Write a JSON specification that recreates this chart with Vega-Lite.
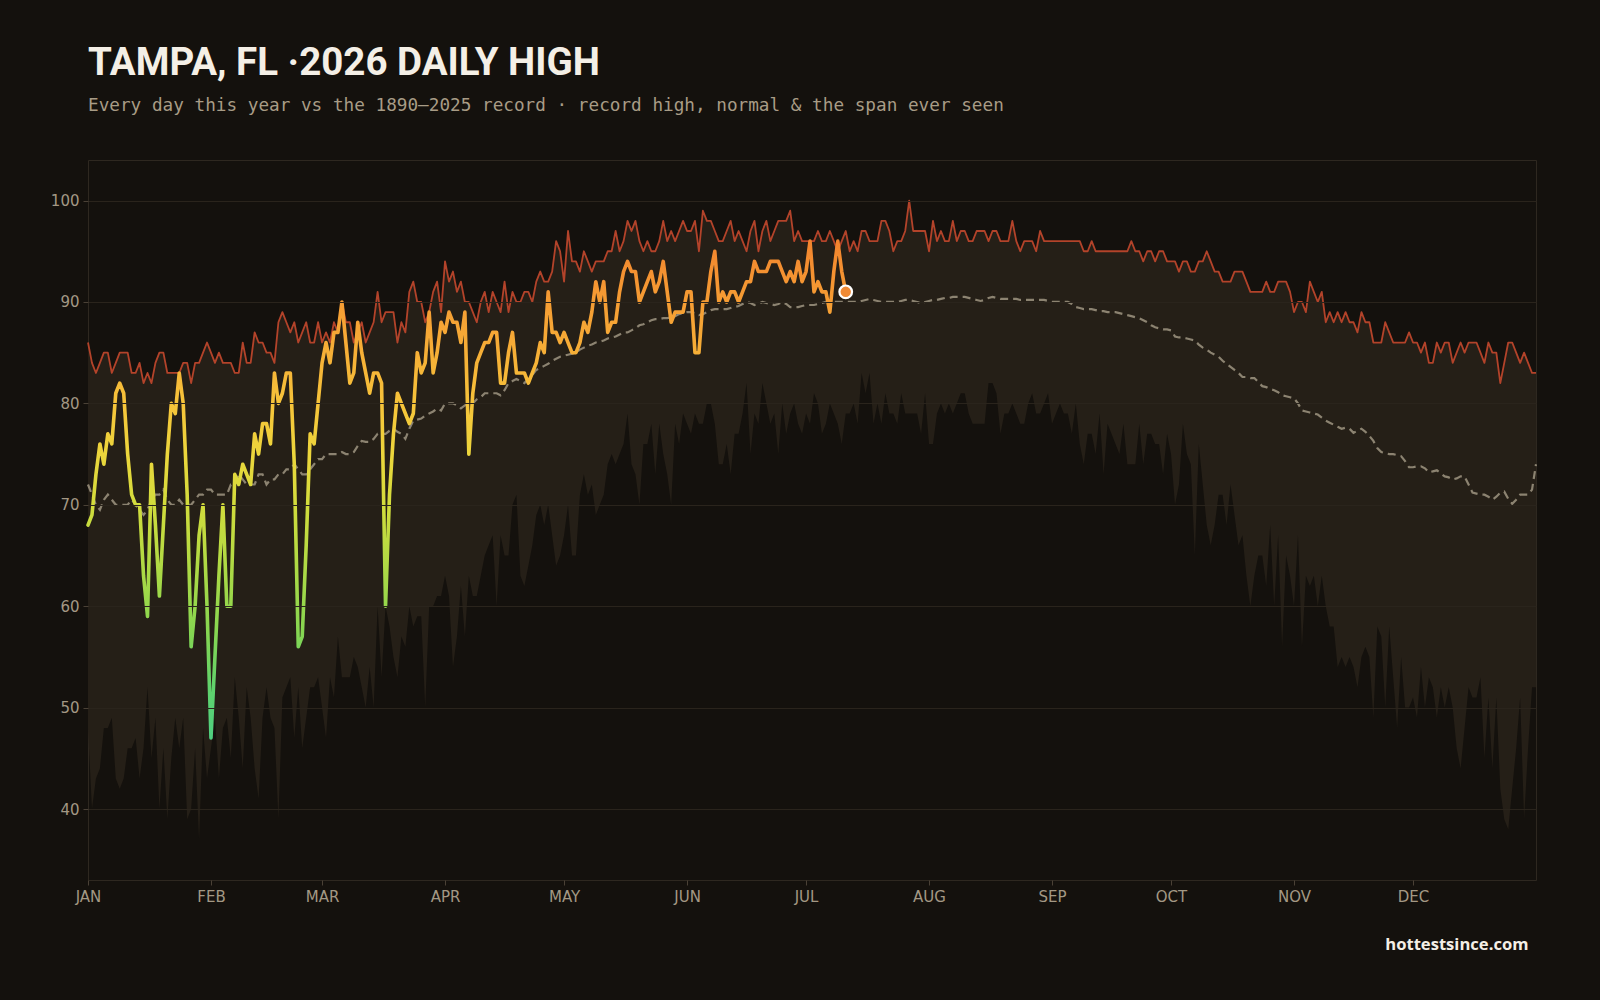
{
  "$schema": "https://vega.github.io/schema/vega-lite/v6.json",
  "width": 1448,
  "height": 720,
  "autosize": {"type": "none"},
  "padding": {"left": 88, "top": 160, "right": 64, "bottom": 120},
  "background": "#14110d",
  "title": {
    "text": "TAMPA, FL ·2026 DAILY HIGH",
    "subtitle": "Every day this year vs the 1890–2025 record · record high, normal & the span ever seen",
    "anchor": "start",
    "frame": "group",
    "font": "Roboto",
    "fontSize": 38.5,
    "fontWeight": "bold",
    "color": "#f4efe6",
    "subtitleFont": "DejaVu Sans Mono",
    "subtitleFontSize": 17.7,
    "subtitleColor": "#a89c86",
    "subtitlePadding": 14,
    "offset": 44
  },
  "config": {
    "view": {"fill": "#14110d", "stroke": "#2e2820", "strokeWidth": 1},
    "axis": {
      "domain": false,
      "labelColor": "#a39884",
      "labelFont": "DejaVu Sans",
      "labelFontSize": 15,
      "tickColor": "#4a4136",
      "tickSize": 5,
      "gridColor": "#2a241c",
      "gridWidth": 1,
      "labelPadding": 4
    }
  },
  "data": {"values": [
{"d":0,"hi":86,"lo":48,"nm":72,"t":68},
{"d":1,"hi":84,"lo":40,"nm":71,"t":69},
{"d":2,"hi":83,"lo":43,"nm":70,"t":73},
{"d":3,"hi":84,"lo":44,"nm":69.5,"t":76},
{"d":4,"hi":85,"lo":48,"nm":70.5,"t":74},
{"d":5,"hi":85,"lo":48,"nm":71,"t":77},
{"d":6,"hi":83,"lo":49,"nm":70.5,"t":76},
{"d":7,"hi":84,"lo":43,"nm":70,"t":81},
{"d":8,"hi":85,"lo":42,"nm":70,"t":82},
{"d":9,"hi":85,"lo":43,"nm":70,"t":81},
{"d":10,"hi":85,"lo":46,"nm":70,"t":75},
{"d":11,"hi":83,"lo":46,"nm":70.5,"t":71},
{"d":12,"hi":83,"lo":47,"nm":70,"t":70},
{"d":13,"hi":84,"lo":43,"nm":69.5,"t":70},
{"d":14,"hi":82,"lo":46,"nm":69,"t":63},
{"d":15,"hi":83,"lo":52,"nm":69.5,"t":59},
{"d":16,"hi":82,"lo":45,"nm":70.5,"t":74},
{"d":17,"hi":84,"lo":49,"nm":71,"t":68},
{"d":18,"hi":85,"lo":40,"nm":71,"t":61},
{"d":19,"hi":85,"lo":46,"nm":71.5,"t":68},
{"d":20,"hi":83,"lo":39,"nm":70.5,"t":75},
{"d":21,"hi":83,"lo":45,"nm":70,"t":80},
{"d":22,"hi":83,"lo":49,"nm":70,"t":79},
{"d":23,"hi":83,"lo":46,"nm":70.5,"t":83},
{"d":24,"hi":84,"lo":49,"nm":70,"t":80},
{"d":25,"hi":84,"lo":39,"nm":70,"t":71},
{"d":26,"hi":82,"lo":40,"nm":70,"t":56},
{"d":27,"hi":84,"lo":46,"nm":70.5,"t":60},
{"d":28,"hi":84,"lo":37,"nm":71,"t":67},
{"d":29,"hi":85,"lo":48,"nm":71,"t":70},
{"d":30,"hi":86,"lo":43,"nm":71.5,"t":60},
{"d":31,"hi":85,"lo":46,"nm":71.5,"t":47},
{"d":32,"hi":84,"lo":49,"nm":71,"t":55},
{"d":33,"hi":85,"lo":43,"nm":71,"t":63},
{"d":34,"hi":84,"lo":48,"nm":71,"t":70},
{"d":35,"hi":84,"lo":49,"nm":71,"t":60},
{"d":36,"hi":84,"lo":45,"nm":72,"t":60},
{"d":37,"hi":83,"lo":53,"nm":72,"t":73},
{"d":38,"hi":83,"lo":49,"nm":73,"t":72},
{"d":39,"hi":86,"lo":44,"nm":72.5,"t":74},
{"d":40,"hi":84,"lo":52,"nm":72,"t":73},
{"d":41,"hi":84,"lo":49,"nm":72,"t":72},
{"d":42,"hi":87,"lo":44,"nm":72,"t":77},
{"d":43,"hi":86,"lo":41,"nm":73,"t":75},
{"d":44,"hi":86,"lo":49,"nm":73,"t":78},
{"d":45,"hi":85,"lo":52,"nm":72,"t":78},
{"d":46,"hi":85,"lo":49,"nm":72.5,"t":76},
{"d":47,"hi":84,"lo":48,"nm":72.5,"t":83},
{"d":48,"hi":88,"lo":39,"nm":73,"t":80},
{"d":49,"hi":89,"lo":51,"nm":73,"t":81},
{"d":50,"hi":88,"lo":52,"nm":73.5,"t":83},
{"d":51,"hi":87,"lo":53,"nm":73.5,"t":83},
{"d":52,"hi":88,"lo":47,"nm":74,"t":74},
{"d":53,"hi":86,"lo":52,"nm":73.5,"t":56},
{"d":54,"hi":87,"lo":46,"nm":73,"t":57},
{"d":55,"hi":88,"lo":49,"nm":73,"t":66},
{"d":56,"hi":86,"lo":52,"nm":73.5,"t":77},
{"d":57,"hi":86,"lo":52,"nm":74,"t":76},
{"d":58,"hi":88,"lo":53,"nm":74.5,"t":80},
{"d":59,"hi":86,"lo":50,"nm":74.5,"t":84},
{"d":60,"hi":87,"lo":47,"nm":75,"t":86},
{"d":61,"hi":86,"lo":53,"nm":75,"t":84},
{"d":62,"hi":88,"lo":51,"nm":75,"t":87},
{"d":63,"hi":87,"lo":57,"nm":75,"t":87},
{"d":64,"hi":90,"lo":53,"nm":75.2,"t":90},
{"d":65,"hi":88,"lo":53,"nm":75,"t":86},
{"d":66,"hi":88,"lo":53,"nm":75,"t":82},
{"d":67,"hi":86,"lo":55,"nm":75.2,"t":83},
{"d":68,"hi":87,"lo":54,"nm":75.8,"t":88},
{"d":69,"hi":88,"lo":52,"nm":76.3,"t":85},
{"d":70,"hi":86,"lo":50,"nm":76.2,"t":83},
{"d":71,"hi":87,"lo":54,"nm":76.2,"t":81},
{"d":72,"hi":88,"lo":50,"nm":76.5,"t":83},
{"d":73,"hi":91,"lo":60,"nm":77,"t":83},
{"d":74,"hi":88,"lo":53,"nm":77,"t":82},
{"d":75,"hi":89,"lo":60,"nm":77,"t":60},
{"d":76,"hi":89,"lo":58,"nm":77.3,"t":71},
{"d":77,"hi":89,"lo":55,"nm":77.5,"t":77},
{"d":78,"hi":86,"lo":53,"nm":77.2,"t":81},
{"d":79,"hi":88,"lo":57,"nm":77,"t":80},
{"d":80,"hi":87,"lo":56,"nm":76.5,"t":79},
{"d":81,"hi":91,"lo":60,"nm":77.5,"t":78},
{"d":82,"hi":92,"lo":58,"nm":78.3,"t":79},
{"d":83,"hi":90,"lo":59,"nm":78.4,"t":85},
{"d":84,"hi":90,"lo":59,"nm":78.5,"t":83},
{"d":85,"hi":88,"lo":50,"nm":78.8,"t":84},
{"d":86,"hi":89,"lo":60,"nm":79,"t":89},
{"d":87,"hi":91,"lo":60,"nm":79.2,"t":83},
{"d":88,"hi":92,"lo":61,"nm":79.5,"t":85},
{"d":89,"hi":89,"lo":61,"nm":79.3,"t":88},
{"d":90,"hi":94,"lo":63,"nm":80,"t":87},
{"d":91,"hi":92,"lo":61,"nm":80,"t":89},
{"d":92,"hi":93,"lo":54,"nm":80,"t":88},
{"d":93,"hi":91,"lo":57,"nm":79.8,"t":88},
{"d":94,"hi":92,"lo":62,"nm":79.5,"t":86},
{"d":95,"hi":90,"lo":57,"nm":79.8,"t":89},
{"d":96,"hi":90,"lo":63,"nm":80,"t":75},
{"d":97,"hi":89,"lo":61,"nm":80,"t":81},
{"d":98,"hi":88,"lo":61,"nm":80.4,"t":84},
{"d":99,"hi":90,"lo":63,"nm":80.6,"t":85},
{"d":100,"hi":91,"lo":65,"nm":81,"t":86},
{"d":101,"hi":89,"lo":66,"nm":81,"t":86},
{"d":102,"hi":91,"lo":67,"nm":81,"t":87},
{"d":103,"hi":90,"lo":60,"nm":81,"t":87},
{"d":104,"hi":89,"lo":67,"nm":80.8,"t":82},
{"d":105,"hi":92,"lo":65,"nm":81.3,"t":82},
{"d":106,"hi":89,"lo":65,"nm":82,"t":85},
{"d":107,"hi":91,"lo":70,"nm":82.2,"t":87},
{"d":108,"hi":90,"lo":71,"nm":82.4,"t":83},
{"d":109,"hi":90,"lo":63,"nm":82.2,"t":83},
{"d":110,"hi":91,"lo":62,"nm":82,"t":83},
{"d":111,"hi":91,"lo":64,"nm":82.4,"t":82},
{"d":112,"hi":90,"lo":66,"nm":82.8,"t":83},
{"d":113,"hi":92,"lo":69,"nm":83.3,"t":84},
{"d":114,"hi":93,"lo":70,"nm":83.5,"t":86},
{"d":115,"hi":92,"lo":68,"nm":83.7,"t":85},
{"d":116,"hi":92,"lo":70,"nm":83.9,"t":91},
{"d":117,"hi":93,"lo":67,"nm":84.2,"t":87},
{"d":118,"hi":96,"lo":64,"nm":84.4,"t":87},
{"d":119,"hi":95,"lo":65,"nm":84.6,"t":86},
{"d":120,"hi":92,"lo":67,"nm":84.7,"t":87},
{"d":121,"hi":97,"lo":70,"nm":84.8,"t":86},
{"d":122,"hi":94,"lo":65,"nm":84.9,"t":85},
{"d":123,"hi":94,"lo":65,"nm":85,"t":85},
{"d":124,"hi":93,"lo":71,"nm":85.3,"t":86},
{"d":125,"hi":95,"lo":73,"nm":85.5,"t":88},
{"d":126,"hi":94,"lo":71,"nm":85.7,"t":87},
{"d":127,"hi":93,"lo":72,"nm":85.8,"t":89},
{"d":128,"hi":94,"lo":69,"nm":86,"t":92},
{"d":129,"hi":94,"lo":70,"nm":86.1,"t":90},
{"d":130,"hi":94,"lo":71,"nm":86.2,"t":92},
{"d":131,"hi":95,"lo":74,"nm":86.4,"t":87},
{"d":132,"hi":95,"lo":75,"nm":86.5,"t":88},
{"d":133,"hi":97,"lo":74,"nm":86.6,"t":88},
{"d":134,"hi":95,"lo":75,"nm":86.8,"t":91},
{"d":135,"hi":96,"lo":76,"nm":87,"t":93},
{"d":136,"hi":98,"lo":79,"nm":87,"t":94},
{"d":137,"hi":97,"lo":74,"nm":87.2,"t":93},
{"d":138,"hi":98,"lo":73,"nm":87.4,"t":93},
{"d":139,"hi":96,"lo":70,"nm":87.7,"t":90},
{"d":140,"hi":95,"lo":76,"nm":87.8,"t":91},
{"d":141,"hi":96,"lo":76,"nm":88,"t":92},
{"d":142,"hi":95,"lo":78,"nm":88.2,"t":93},
{"d":143,"hi":95,"lo":73,"nm":88.3,"t":91},
{"d":144,"hi":96,"lo":78,"nm":88.3,"t":92},
{"d":145,"hi":98,"lo":75,"nm":88.4,"t":94},
{"d":146,"hi":96,"lo":73,"nm":88.4,"t":91},
{"d":147,"hi":97,"lo":70,"nm":88.5,"t":88},
{"d":148,"hi":96,"lo":78,"nm":88.6,"t":89},
{"d":149,"hi":97,"lo":76,"nm":88.8,"t":89},
{"d":150,"hi":98,"lo":79,"nm":88.9,"t":89},
{"d":151,"hi":97,"lo":78,"nm":89,"t":91},
{"d":152,"hi":97,"lo":77,"nm":89,"t":91},
{"d":153,"hi":98,"lo":79,"nm":88.9,"t":85},
{"d":154,"hi":95,"lo":78,"nm":88.7,"t":85},
{"d":155,"hi":99,"lo":78,"nm":88.8,"t":90},
{"d":156,"hi":98,"lo":80,"nm":89,"t":90},
{"d":157,"hi":98,"lo":80,"nm":89.2,"t":93},
{"d":158,"hi":97,"lo":78,"nm":89.3,"t":95},
{"d":159,"hi":96,"lo":74,"nm":89.3,"t":90},
{"d":160,"hi":96,"lo":74,"nm":89.3,"t":91},
{"d":161,"hi":97,"lo":76,"nm":89.3,"t":90},
{"d":162,"hi":98,"lo":73,"nm":89.4,"t":91},
{"d":163,"hi":96,"lo":77,"nm":89.5,"t":91},
{"d":164,"hi":97,"lo":77,"nm":89.6,"t":90},
{"d":165,"hi":96,"lo":79,"nm":89.8,"t":91},
{"d":166,"hi":95,"lo":82,"nm":90,"t":92},
{"d":167,"hi":97,"lo":75,"nm":89.9,"t":92},
{"d":168,"hi":98,"lo":79,"nm":89.7,"t":94},
{"d":169,"hi":95,"lo":78,"nm":89.8,"t":93},
{"d":170,"hi":97,"lo":82,"nm":90,"t":93},
{"d":171,"hi":98,"lo":80,"nm":89.9,"t":93},
{"d":172,"hi":96,"lo":78,"nm":89.8,"t":94},
{"d":173,"hi":97,"lo":79,"nm":89.7,"t":94},
{"d":174,"hi":98,"lo":75,"nm":89.8,"t":94},
{"d":175,"hi":98,"lo":80,"nm":90,"t":93},
{"d":176,"hi":98,"lo":77,"nm":89.8,"t":92},
{"d":177,"hi":99,"lo":79,"nm":89.5,"t":93},
{"d":178,"hi":96,"lo":80,"nm":89.5,"t":92},
{"d":179,"hi":97,"lo":78,"nm":89.5,"t":94},
{"d":180,"hi":96,"lo":77,"nm":89.6,"t":92},
{"d":181,"hi":96,"lo":79,"nm":89.7,"t":93},
{"d":182,"hi":96,"lo":78,"nm":89.7,"t":96},
{"d":183,"hi":96,"lo":81,"nm":89.7,"t":91},
{"d":184,"hi":97,"lo":80,"nm":89.8,"t":92},
{"d":185,"hi":96,"lo":77,"nm":89.9,"t":91},
{"d":186,"hi":96,"lo":78,"nm":90,"t":91},
{"d":187,"hi":97,"lo":80,"nm":90,"t":89},
{"d":188,"hi":96,"lo":79,"nm":90,"t":93},
{"d":189,"hi":95,"lo":78,"nm":90,"t":96},
{"d":190,"hi":96,"lo":76,"nm":90,"t":93},
{"d":191,"hi":97,"lo":79,"nm":90,"t":91},
{"d":192,"hi":95,"lo":79,"nm":90},
{"d":193,"hi":96,"lo":80,"nm":90},
{"d":194,"hi":95,"lo":78,"nm":90},
{"d":195,"hi":97,"lo":83,"nm":90.1},
{"d":196,"hi":97,"lo":81,"nm":90.2},
{"d":197,"hi":96,"lo":83,"nm":90.3},
{"d":198,"hi":96,"lo":78,"nm":90.2},
{"d":199,"hi":96,"lo":80,"nm":90.1},
{"d":200,"hi":98,"lo":78,"nm":90},
{"d":201,"hi":98,"lo":81,"nm":90},
{"d":202,"hi":97,"lo":79,"nm":90},
{"d":203,"hi":95,"lo":79,"nm":90},
{"d":204,"hi":96,"lo":78,"nm":90},
{"d":205,"hi":96,"lo":81,"nm":90.1},
{"d":206,"hi":97,"lo":79,"nm":90.2},
{"d":207,"hi":100,"lo":79,"nm":90.2},
{"d":208,"hi":97,"lo":79,"nm":90.1},
{"d":209,"hi":97,"lo":79,"nm":90},
{"d":210,"hi":97,"lo":77,"nm":89.9},
{"d":211,"hi":97,"lo":81,"nm":90},
{"d":212,"hi":95,"lo":76,"nm":90.1},
{"d":213,"hi":98,"lo":76,"nm":90.2},
{"d":214,"hi":96,"lo":79,"nm":90.2},
{"d":215,"hi":97,"lo":80,"nm":90.3},
{"d":216,"hi":96,"lo":79,"nm":90.4},
{"d":217,"hi":96,"lo":80,"nm":90.4},
{"d":218,"hi":98,"lo":79,"nm":90.5},
{"d":219,"hi":96,"lo":80,"nm":90.5},
{"d":220,"hi":97,"lo":81,"nm":90.5},
{"d":221,"hi":97,"lo":81,"nm":90.5},
{"d":222,"hi":96,"lo":79,"nm":90.4},
{"d":223,"hi":96,"lo":78,"nm":90.3},
{"d":224,"hi":97,"lo":78,"nm":90.2},
{"d":225,"hi":97,"lo":78,"nm":90.1},
{"d":226,"hi":97,"lo":78,"nm":90.2},
{"d":227,"hi":96,"lo":82,"nm":90.4},
{"d":228,"hi":97,"lo":82,"nm":90.5},
{"d":229,"hi":97,"lo":81,"nm":90.4},
{"d":230,"hi":96,"lo":77,"nm":90.3},
{"d":231,"hi":96,"lo":79,"nm":90.3},
{"d":232,"hi":96,"lo":79,"nm":90.3},
{"d":233,"hi":98,"lo":80,"nm":90.3},
{"d":234,"hi":96,"lo":79,"nm":90.3},
{"d":235,"hi":95,"lo":78,"nm":90.2},
{"d":236,"hi":96,"lo":78,"nm":90.2},
{"d":237,"hi":96,"lo":80,"nm":90.2},
{"d":238,"hi":96,"lo":81,"nm":90.2},
{"d":239,"hi":95,"lo":79,"nm":90.2},
{"d":240,"hi":97,"lo":79,"nm":90.2},
{"d":241,"hi":96,"lo":80,"nm":90.2},
{"d":242,"hi":96,"lo":81,"nm":90.1},
{"d":243,"hi":96,"lo":78,"nm":90},
{"d":244,"hi":96,"lo":79,"nm":90},
{"d":245,"hi":96,"lo":80,"nm":90},
{"d":246,"hi":96,"lo":79,"nm":90},
{"d":247,"hi":96,"lo":79,"nm":90},
{"d":248,"hi":96,"lo":77,"nm":89.8},
{"d":249,"hi":96,"lo":80,"nm":89.5},
{"d":250,"hi":96,"lo":76,"nm":89.4},
{"d":251,"hi":95,"lo":74,"nm":89.3},
{"d":252,"hi":95,"lo":77,"nm":89.3},
{"d":253,"hi":96,"lo":77,"nm":89.3},
{"d":254,"hi":95,"lo":75,"nm":89.2},
{"d":255,"hi":95,"lo":79,"nm":89.1},
{"d":256,"hi":95,"lo":73,"nm":89.1},
{"d":257,"hi":95,"lo":78,"nm":89},
{"d":258,"hi":95,"lo":77,"nm":89},
{"d":259,"hi":95,"lo":76,"nm":89},
{"d":260,"hi":95,"lo":75,"nm":88.9},
{"d":261,"hi":95,"lo":78,"nm":88.8},
{"d":262,"hi":95,"lo":74,"nm":88.7},
{"d":263,"hi":96,"lo":74,"nm":88.6},
{"d":264,"hi":95,"lo":74,"nm":88.5},
{"d":265,"hi":95,"lo":78,"nm":88.4},
{"d":266,"hi":94,"lo":74,"nm":88.2},
{"d":267,"hi":95,"lo":77,"nm":88},
{"d":268,"hi":95,"lo":77,"nm":87.7},
{"d":269,"hi":94,"lo":76,"nm":87.5},
{"d":270,"hi":95,"lo":76,"nm":87.4},
{"d":271,"hi":95,"lo":73,"nm":87.3},
{"d":272,"hi":94,"lo":77,"nm":87.3},
{"d":273,"hi":94,"lo":75,"nm":87.2},
{"d":274,"hi":94,"lo":70,"nm":86.6},
{"d":275,"hi":93,"lo":72,"nm":86.5},
{"d":276,"hi":94,"lo":78,"nm":86.5},
{"d":277,"hi":94,"lo":75,"nm":86.4},
{"d":278,"hi":93,"lo":74,"nm":86.3},
{"d":279,"hi":93,"lo":65,"nm":86.2},
{"d":280,"hi":94,"lo":76,"nm":85.8},
{"d":281,"hi":94,"lo":72,"nm":85.5},
{"d":282,"hi":95,"lo":68,"nm":85.3},
{"d":283,"hi":94,"lo":66,"nm":85},
{"d":284,"hi":93,"lo":68,"nm":84.8},
{"d":285,"hi":93,"lo":71,"nm":84.6},
{"d":286,"hi":92,"lo":71,"nm":84.2},
{"d":287,"hi":92,"lo":68,"nm":83.9},
{"d":288,"hi":92,"lo":72,"nm":83.6},
{"d":289,"hi":93,"lo":69,"nm":83.3},
{"d":290,"hi":93,"lo":66,"nm":83},
{"d":291,"hi":93,"lo":67,"nm":82.6},
{"d":292,"hi":92,"lo":63,"nm":82.6},
{"d":293,"hi":91,"lo":60,"nm":82.5},
{"d":294,"hi":91,"lo":63,"nm":82.5},
{"d":295,"hi":91,"lo":65,"nm":82.1},
{"d":296,"hi":91,"lo":65,"nm":81.7},
{"d":297,"hi":92,"lo":62,"nm":81.6},
{"d":298,"hi":91,"lo":68,"nm":81.4},
{"d":299,"hi":91,"lo":60,"nm":81.3},
{"d":300,"hi":92,"lo":67,"nm":81.1},
{"d":301,"hi":92,"lo":56,"nm":80.8},
{"d":302,"hi":92,"lo":65,"nm":80.7},
{"d":303,"hi":91,"lo":63,"nm":80.6},
{"d":304,"hi":89,"lo":60,"nm":80.5},
{"d":305,"hi":90,"lo":67,"nm":80},
{"d":306,"hi":90,"lo":56,"nm":79.3},
{"d":307,"hi":89,"lo":63,"nm":79.2},
{"d":308,"hi":92,"lo":62,"nm":79.1},
{"d":309,"hi":91,"lo":63,"nm":79},
{"d":310,"hi":90,"lo":60,"nm":78.9},
{"d":311,"hi":91,"lo":63,"nm":78.6},
{"d":312,"hi":88,"lo":60,"nm":78.3},
{"d":313,"hi":89,"lo":58,"nm":78.1},
{"d":314,"hi":88,"lo":58,"nm":77.9},
{"d":315,"hi":89,"lo":54,"nm":77.7},
{"d":316,"hi":88,"lo":55,"nm":77.5},
{"d":317,"hi":89,"lo":54,"nm":77.6},
{"d":318,"hi":88,"lo":55,"nm":77.5},
{"d":319,"hi":88,"lo":54,"nm":77.1},
{"d":320,"hi":87,"lo":52,"nm":77.3},
{"d":321,"hi":89,"lo":55,"nm":77.5},
{"d":322,"hi":88,"lo":56,"nm":77.2},
{"d":323,"hi":88,"lo":55,"nm":76.8},
{"d":324,"hi":86,"lo":49,"nm":76.3},
{"d":325,"hi":86,"lo":58,"nm":75.6},
{"d":326,"hi":86,"lo":57,"nm":75.2},
{"d":327,"hi":88,"lo":50,"nm":75.1},
{"d":328,"hi":87,"lo":58,"nm":75},
{"d":329,"hi":86,"lo":53,"nm":75},
{"d":330,"hi":86,"lo":48,"nm":74.9},
{"d":331,"hi":86,"lo":55,"nm":74.8},
{"d":332,"hi":86,"lo":50,"nm":74.3},
{"d":333,"hi":87,"lo":50,"nm":73.7},
{"d":334,"hi":86,"lo":51,"nm":73.7},
{"d":335,"hi":86,"lo":49,"nm":73.8},
{"d":336,"hi":85,"lo":54,"nm":73.8},
{"d":337,"hi":86,"lo":50,"nm":73.6},
{"d":338,"hi":84,"lo":53,"nm":73.2},
{"d":339,"hi":84,"lo":52,"nm":73.3},
{"d":340,"hi":86,"lo":49,"nm":73.4},
{"d":341,"hi":85,"lo":52,"nm":73.1},
{"d":342,"hi":86,"lo":50,"nm":72.8},
{"d":343,"hi":86,"lo":52,"nm":72.7},
{"d":344,"hi":84,"lo":50,"nm":72.5},
{"d":345,"hi":85,"lo":46,"nm":72.6},
{"d":346,"hi":86,"lo":44,"nm":72.8},
{"d":347,"hi":85,"lo":48,"nm":72.8},
{"d":348,"hi":86,"lo":52,"nm":72},
{"d":349,"hi":86,"lo":51,"nm":71.2},
{"d":350,"hi":86,"lo":51,"nm":71.1},
{"d":351,"hi":85,"lo":53,"nm":71},
{"d":352,"hi":84,"lo":45,"nm":71},
{"d":353,"hi":86,"lo":51,"nm":70.8},
{"d":354,"hi":85,"lo":44,"nm":70.5},
{"d":355,"hi":85,"lo":51,"nm":70.8},
{"d":356,"hi":82,"lo":42,"nm":71.2},
{"d":357,"hi":84,"lo":39,"nm":71.3},
{"d":358,"hi":86,"lo":38,"nm":70.6},
{"d":359,"hi":86,"lo":42,"nm":70.1},
{"d":360,"hi":85,"lo":46,"nm":70.5},
{"d":361,"hi":84,"lo":51,"nm":71},
{"d":362,"hi":85,"lo":39,"nm":71},
{"d":363,"hi":84,"lo":46,"nm":71},
{"d":364,"hi":83,"lo":52,"nm":71.5},
{"d":365,"hi":83,"lo":52,"nm":74}
  ]},
  "encoding": {
    "x": {
      "field": "d",
      "type": "quantitative",
      "scale": {"domain": [0, 365], "nice": false, "zero": false},
      "axis": {
        "values": [0, 31, 59, 90, 120, 151, 181, 212, 243, 273, 304, 334],
        "labelExpr": "['JAN','FEB','MAR','APR','MAY','JUN','JUL','AUG','SEP','OCT','NOV','DEC'][indexof([0,31,59,90,120,151,181,212,243,273,304,334], datum.value)]",
        "grid": false,
        "labelFlush": false,
        "title": "hottestsince.com",
        "titleX": 1440,
        "titleAlign": "right",
        "titleFont": "Open Sans",
        "titleFontWeight": "bold",
        "titleFontSize": 16.6,
        "titleColor": "#f4efe6",
        "titlePadding": 32
      }
    }
  },
  "layer": [
    {
      "mark": {"type": "area", "fill": "#251f17", "opacity": 1},
      "encoding": {
        "y": {
          "field": "lo",
          "type": "quantitative",
          "scale": {"domain": [33, 104], "nice": false, "zero": false},
          "axis": {"values": [40, 50, 60, 70, 80, 90, 100], "grid": true, "zindex": 1},
          "title": null
        },
        "y2": {"field": "hi"}
      }
    },
    {
      "mark": {"type": "line", "stroke": "#b3432a", "strokeWidth": 1.8, "strokeJoin": "round"},
      "encoding": {"y": {"field": "hi", "type": "quantitative", "title": null}}
    },
    {
      "mark": {"type": "line", "stroke": "#8c8371", "strokeWidth": 2.2, "strokeDash": [8, 5]},
      "encoding": {"y": {"field": "nm", "type": "quantitative", "title": null}}
    },
    {
      "transform": [{"filter": "isValid(datum.t)"}],
      "mark": {
        "type": "line",
        "strokeWidth": 3.6,
        "strokeJoin": "round",
        "strokeCap": "round",
        "stroke": {
          "gradient": "linear",
          "x1": 0, "y1": 1, "x2": 0, "y2": 0,
          "stops": [
            {"offset": 0, "color": "#4fd080"},
            {"offset": 0.1, "color": "#5fd26c"},
            {"offset": 0.22, "color": "#88d650"},
            {"offset": 0.35, "color": "#b0da44"},
            {"offset": 0.47, "color": "#d2dc3c"},
            {"offset": 0.57, "color": "#ecd63c"},
            {"offset": 0.67, "color": "#f6c43a"},
            {"offset": 0.8, "color": "#f6aa36"},
            {"offset": 0.92, "color": "#f59532"},
            {"offset": 1, "color": "#f2842e"}
          ]
        }
      },
      "encoding": {"y": {"field": "t", "type": "quantitative", "title": null}}
    },
    {
      "transform": [
        {"filter": "isValid(datum.t)"},
        {"joinaggregate": [{"op": "max", "field": "d", "as": "last"}]},
        {"filter": "datum.d === datum.last"}
      ],
      "mark": {"type": "point", "filled": true, "fill": "#f08a35", "stroke": "#ffffff", "strokeWidth": 2.2, "size": 160, "opacity": 1},
      "encoding": {"y": {"field": "t", "type": "quantitative", "title": null}}
    }
  ]
}
